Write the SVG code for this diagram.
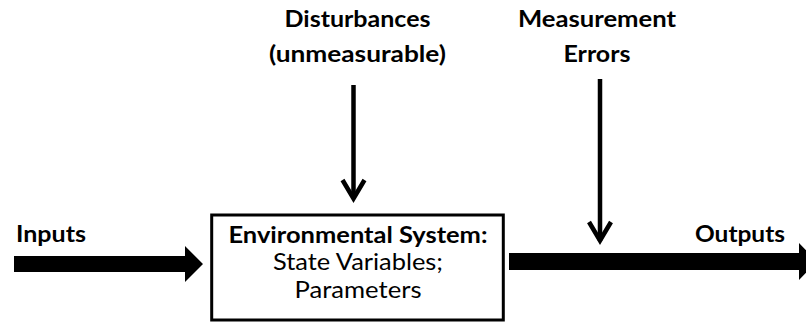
<svg xmlns="http://www.w3.org/2000/svg" width="806" height="322" viewBox="0 0 806 322">
<style>
.b{font-family:Lato,"Open Sans",sans-serif;font-weight:bold;font-size:23px;fill:#000}
.r{font-family:Lato,"Open Sans",sans-serif;font-size:23px;fill:#000}
.s{font-size:22.5px}
.m{text-anchor:middle}
.ln{stroke:#000;stroke-width:4.5;fill:none}
.hd{stroke:#000;stroke-width:4.5;fill:none;stroke-linejoin:miter;stroke-miterlimit:10}
</style>
<rect width="806" height="322" fill="#fff"/>
<g id="system">
<rect x="211.7" y="215" width="291.6" height="105" fill="#fff" stroke="#000" stroke-width="3"/>
<text class="b s m" x="358" y="242.5" textLength="259" lengthAdjust="spacingAndGlyphs">Environmental System:</text>
<text class="r s m" x="358" y="270" textLength="170" lengthAdjust="spacingAndGlyphs">State Variables;</text>
<text class="r s m" x="358" y="298" textLength="127" lengthAdjust="spacingAndGlyphs">Parameters</text>
</g>
<g id="inputs">
<text class="b" x="16" y="242" textLength="70" lengthAdjust="spacingAndGlyphs">Inputs</text>
</g>
<g id="outputs">
<text class="b m" x="740" y="242" textLength="90" lengthAdjust="spacingAndGlyphs">Outputs</text>
</g>
<g id="disturbances">
<text class="b m" x="357.5" y="27" textLength="146" lengthAdjust="spacingAndGlyphs">Disturbances</text>
<text class="b m" x="357.5" y="62" textLength="177" lengthAdjust="spacingAndGlyphs">(unmeasurable)</text>
</g>
<g id="measurement-errors">
<text class="b m" x="597" y="27" textLength="158" lengthAdjust="spacingAndGlyphs">Measurement</text>
<text class="b m" x="597" y="62" textLength="67" lengthAdjust="spacingAndGlyphs">Errors</text>
</g>
<g id="connectors">
<polygon points="14,256 185,256 185,246 203,264 185,282 185,272 14,272" fill="#000"/>
<polygon points="509,253 799,253 799,243 817,261.5 799,280 799,270 509,270" fill="#000"/>
<line class="ln" x1="353.5" y1="85" x2="353.5" y2="199"/>
<polyline class="hd" points="342.5,180 353.5,198.5 364.5,180"/>
<line class="ln" x1="600" y1="79" x2="600" y2="241"/>
<polyline class="hd" points="589,222 600,240.5 611,222"/>
</g>
</svg>
